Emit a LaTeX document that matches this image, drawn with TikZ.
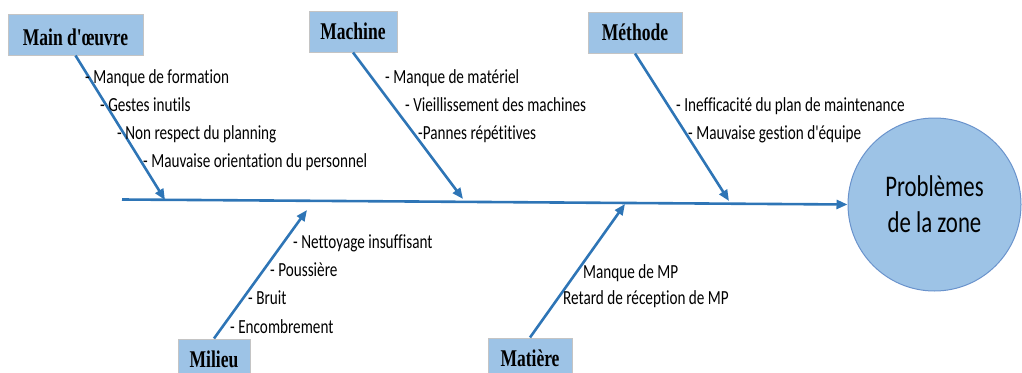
\documentclass[tikz,border=0pt]{standalone}
\usepackage{fontspec}
\usetikzlibrary{arrows.meta}
\newfontfamily\txtfont[FakeStretch=0.76,Ligatures=NoCommon]{Carlito}
\newfontfamily\labfont[FakeStretch=0.73]{Liberation Serif}
\definecolor{bonefill}{HTML}{9DC3E6}
\definecolor{boneline}{HTML}{2E75B6}
\definecolor{boxedge}{HTML}{C4C4C4}
\definecolor{circedge}{HTML}{6A93CC}
\tikzset{
  catbox/.style={draw=boxedge, line width=1pt, fill=bonefill, minimum height=41pt, inner sep=0pt,
    font=\labfont\bfseries\fontsize{24}{27}\selectfont, text height=16pt, text depth=0pt},
  cause/.style={anchor=base west, inner sep=0pt, font=\txtfont\fontsize{20}{24}\selectfont},
  bone/.style={draw=boneline, line width=2.6pt, -{Triangle[length=11pt,width=9pt]}},
}
\begin{document}
\begin{tikzpicture}[x=1pt,y=-1pt]
\useasboundingbox (0,0) rectangle (1022,372);
\clip (0,0) rectangle (1022,372);
% effect
\node[circle, draw=circedge, line width=1pt, fill=bonefill, minimum size=173pt, inner sep=0pt,
  align=center, font=\txtfont\fontsize{30}{36}\selectfont] (prob) at (934.5,204.5) {Problèmes\\de la zone};
% category boxes
\node[catbox, minimum width=135pt] (mo) at (75.5,34.5) {\raisebox{-3pt}{Main d'œuvre}};
\node[catbox, minimum width=88pt] (mach) at (353,31.5) {Machine};
\node[catbox, minimum width=94pt] (meth) at (635,32.5) {Méthode};
\node[catbox, minimum width=72pt] (mil) at (214,359.5) {Milieu};
\node[catbox, minimum width=84pt] (mat) at (530,358.5) {Matière};
% spine
\coordinate (tail) at (122,199.5);
\draw[bone] (tail) -- (prob.west);
% tips on spine
\coordinate (tmo) at (165,200);
\coordinate (tmach) at (463,199);
\coordinate (tmeth) at (729,201);
\coordinate (tmil) at (307,210);
\coordinate (tmat) at (625,204);
\draw[bone] (mo.south) -- (tmo);
\draw[bone] (mach.south) -- (tmach);
\draw[bone] (meth.south) -- (tmeth);
\draw[bone] (mil.north) -- (tmil);
\draw[bone] (mat.north) -- (tmat);
% causes
\node[cause] (c1) at (85,83) {- Manque de formation};
\node[cause] (c2) at (100,111) {- Gestes inutils};
\node[cause] (c3) at (117,139) {- Non respect du planning};
\node[cause] (c4) at (143,167) {- Mauvaise orientation du personnel};
\node[cause] (c5) at (385,83) {- Manque de matériel};
\node[cause] (c6) at (405,111) {- Vieillissement des machines};
\node[cause] (c7) at (418,139) {-Pannes répétitives};
\node[cause] (c8) at (676,111) {- Inefficacité du plan de maintenance};
\node[cause] (c9) at (688,139) {- Mauvaise gestion d'équipe};
\node[cause] (c10) at (293,248) {- Nettoyage insuffisant};
\node[cause] (c11) at (270,276) {- Poussière};
\node[cause] (c12) at (248,304) {- Bruit};
\node[cause] (c13) at (230,333) {- Encombrement};
\node[cause] (c14) at (583,278) {Manque de MP};
\node[cause] (c15) at (563,304) {Retard de réception de MP};
\end{tikzpicture}
\end{document}
